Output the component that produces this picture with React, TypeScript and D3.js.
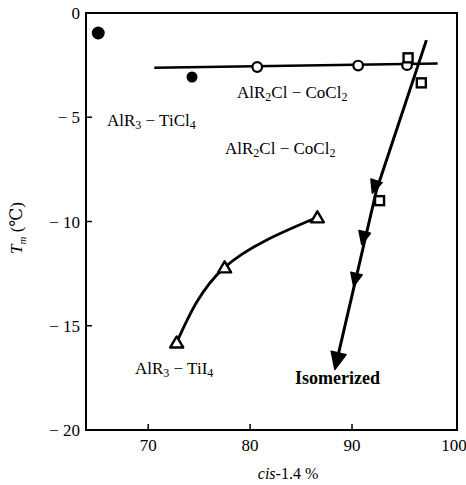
import React from "react";
import * as d3 from "d3";

const xTicks = [70, 80, 90, 100];
const yTicks = [0, -5, -10, -15, -20];

// AlR3-TiCl4 (filled circles)
const ticl4X = [65.1, 74.3];
const ticl4Y = [-0.96, -3.07];

// AlR2Cl-CoCl2 (open circles + line)
const cocl2X = [80.7, 90.6, 95.4];
const cocl2Y = [-2.59, -2.52, -2.5];
const cocl2LineX = [70.6, 98.4];
const cocl2LineY = [-2.62, -2.42];

// AlR2Cl-CoCl2 (open squares)
const squareX = [95.5, 96.8, 92.7];
const squareY = [-2.15, -3.35, -9.0];

// AlR3-TiI4 (open triangles + curve)
const tii4X = [72.8, 77.5, 86.6];
const tii4Y = [-15.8, -12.2, -9.8];

// Isomerized (filled arrowheads + line)
const isoLineX = [97.3, 92.4, 88.5];
const isoLineY = [-1.3, -8.5, -16.7];
const isoX = [92.2, 91.1, 90.3, 88.5];
const isoY = [-8.35, -10.8, -12.8, -16.7];
const isoSize = [13, 13, 13, 17];

const W = 466;
const H = 485;
const FONT = "Liberation Serif, DejaVu Serif, Times New Roman, serif";

export default function App() {
  const x = d3.scaleLinear().domain([63.9, 100.3]).range([86, 457]);
  const y = d3.scaleLinear().domain([-20, 0]).range([430, 13]);

  const line = d3
    .line<[number, number]>()
    .x((d) => x(d[0]))
    .y((d) => y(d[1]));
  const curve = d3
    .line<[number, number]>()
    .x((d) => x(d[0]))
    .y((d) => y(d[1]))
    .curve(d3.curveNatural);

  const cocl2Line = cocl2LineX.map((v, i) => [v, cocl2LineY[i]] as [number, number]);
  const tii4Pts = tii4X.map((v, i) => [v, tii4Y[i]] as [number, number]);
  const isoPts = isoLineX.map((v, i) => [v, isoLineY[i]] as [number, number]);

  const arrow = (px: number, py: number, s: number) => {
    const seg = py < y(isoLineY[1]) ? 0 : 1;
    const dx = x(isoLineX[seg + 1]) - x(isoLineX[seg]);
    const dy = y(isoLineY[seg + 1]) - y(isoLineY[seg]);
    const len = Math.hypot(dx, dy);
    const ux = dx / len;
    const uy = dy / len;
    const nx = -uy;
    const ny = ux;
    const tipX = px + ux * s * 0.5;
    const tipY = py + uy * s * 0.5;
    const bx = px - ux * s * 0.5;
    const by = py - uy * s * 0.5;
    const w = s * 0.45;
    return `M${tipX},${tipY}L${bx + nx * w},${by + ny * w}L${bx - nx * w},${by - ny * w}Z`;
  };

  const ts = { fontFamily: FONT } as const;
  const sub = { fontSize: 12 } as const;

  return (
    <svg width={W} height={H} style={{ position: "absolute", left: 0, top: 0, fontFamily: FONT }}>
      <rect x={0} y={0} width={W} height={H} fill="#fff" />
      <rect x={x(63.9)} y={y(0)} width={x(100.3) - x(63.9)} height={y(-20) - y(0)} fill="none" stroke="#000" strokeWidth={2} />
      {xTicks.map((t) => (
        <g key={"xt" + t}>
          {t < 100 && <line x1={x(t)} x2={x(t)} y1={y(-20)} y2={y(-20) - 6} stroke="#000" strokeWidth={1.5} />}
          <text x={x(t)} y={451} textAnchor="middle" fontSize={17} style={ts}>
            {t}
          </text>
        </g>
      ))}
      {yTicks.map((t) => (
        <g key={"yt" + t}>
          {t !== 0 && t !== -20 && <line x1={x(63.9)} x2={x(63.9) + 6} y1={y(t)} y2={y(t)} stroke="#000" strokeWidth={1.5} />}
          <text x={80} y={y(t) + 6} textAnchor="end" fontSize={17} style={ts}>
            {t === 0 ? "0" : "\u2212 " + Math.abs(t)}
          </text>
        </g>
      ))}
      <text x={288} y={479} textAnchor="middle" fontSize={16} style={ts}>
        <tspan fontStyle="italic">cis</tspan>-1.4 %
      </text>
      <text transform="translate(22,228) rotate(-90)" textAnchor="middle" fontSize={17} style={ts}>
        <tspan fontStyle="italic">T</tspan>
        <tspan fontStyle="italic" fontSize={11} dy={4}>m</tspan>
        <tspan dy={-4}> (℃)</tspan>
      </text>

      <path d={line(cocl2Line) || ""} fill="none" stroke="#000" strokeWidth={2.5} />
      <path d={curve(tii4Pts) || ""} fill="none" stroke="#000" strokeWidth={2.8} />
      <path d={line(isoPts) || ""} fill="none" stroke="#000" strokeWidth={3} strokeLinejoin="round" />

      {ticl4X.map((v, i) => (
        <circle key={"fc" + i} cx={x(v)} cy={y(ticl4Y[i])} r={i === 0 ? 6.5 : 5.5} fill="#000" />
      ))}
      {cocl2X.map((v, i) => (
        <circle key={"oc" + i} cx={x(v)} cy={y(cocl2Y[i])} r={4.8} fill="#fff" stroke="#000" strokeWidth={2.2} />
      ))}
      {squareX.map((v, i) => (
        <rect key={"sq" + i} x={x(v) - 4.5} y={y(squareY[i]) - 4.5} width={9} height={9} fill="#fff" stroke="#000" strokeWidth={2.4} />
      ))}
      {tii4X.map((v, i) => {
        const cx = x(v);
        const cy = y(tii4Y[i]);
        return (
          <path
            key={"ot" + i}
            d={`M${cx},${cy - 6}L${cx + 6.5},${cy + 5}L${cx - 6.5},${cy + 5}Z`}
            fill="#fff"
            stroke="#000"
            strokeWidth={2.4}
            strokeLinejoin="round"
          />
        );
      })}
      {isoX.map((v, i) => (
        <path key={"ar" + i} d={arrow(x(v), y(isoY[i]), isoSize[i])} fill="#000" stroke="#000" strokeWidth={1.5} strokeLinejoin="round" />
      ))}

      <text x={107} y={126} fontSize={17} style={ts}>
        AlR<tspan {...sub} dy={3}>3</tspan>
        <tspan dy={-3}>{" \u2212 TiCl"}</tspan>
        <tspan {...sub} dy={3}>4</tspan>
      </text>
      <text x={237} y={98} fontSize={17} style={ts}>
        AlR<tspan {...sub} dy={3}>2</tspan>
        <tspan dy={-3}>{"Cl \u2212 CoCl"}</tspan>
        <tspan {...sub} dy={3}>2</tspan>
      </text>
      <text x={225} y={154} fontSize={17} style={ts}>
        AlR<tspan {...sub} dy={3}>2</tspan>
        <tspan dy={-3}>{"Cl \u2212 CoCl"}</tspan>
        <tspan {...sub} dy={3}>2</tspan>
      </text>
      <text x={135} y={374} fontSize={17} style={ts}>
        AlR<tspan {...sub} dy={3}>3</tspan>
        <tspan dy={-3}>{" \u2212 TiI"}</tspan>
        <tspan {...sub} dy={3}>4</tspan>
      </text>
      <text x={295} y={384} fontSize={18} fontWeight="bold" style={ts}>
        Isomerized
      </text>
    </svg>
  );
}
